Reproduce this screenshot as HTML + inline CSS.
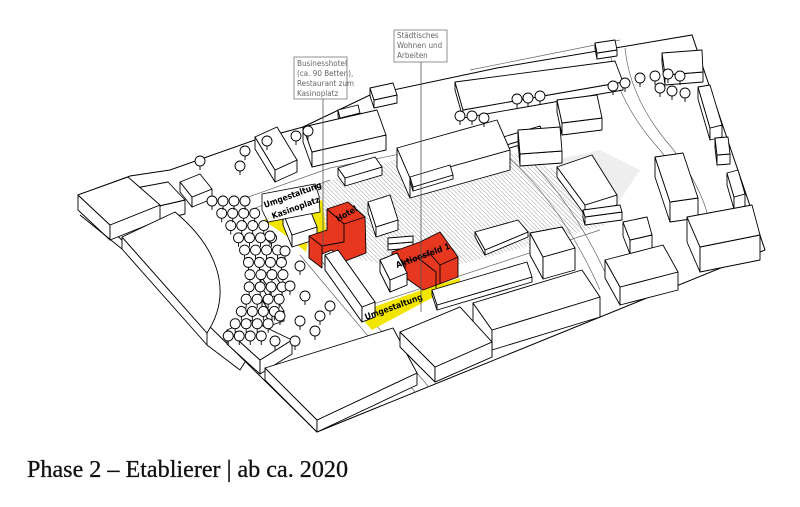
<!DOCTYPE html>
<html><head><meta charset="utf-8"><style>
html,body{margin:0;padding:0;background:#fff;width:800px;height:507px;overflow:hidden}
svg{display:block}
.t{font-family:"DejaVu Sans Condensed","DejaVu Sans","Liberation Sans",sans-serif;font-size:8px;fill:#666}
.lb{font-family:"DejaVu Sans Condensed","DejaVu Sans","Liberation Sans",sans-serif;font-size:8.5px;font-weight:bold;fill:#000}
</style></head><body>
<svg id="s" width="800" height="507" viewBox="0 0 800 507" xmlns="http://www.w3.org/2000/svg">
<defs>
<pattern id="h" width="3" height="3" patternUnits="userSpaceOnUse" patternTransform="rotate(-45)">
<line x1="0" y1="0" x2="0" y2="3" stroke="#888" stroke-width="0.8"/></pattern>
</defs>
<polygon points="78,195 130,176 170,170 255,140 303,127 370,95 497,68 692,35 765,250 317,432 78,197" fill="#fff" stroke="#000" stroke-width="1"/>
<polygon points="300,190 400,158 500,148 560,172 605,225 470,262 420,272 340,255" fill="url(#h)"/>
<polygon points="555,160 600,150 640,170 610,215" fill="#eee"/>
<g fill="none" stroke="#666" stroke-width="0.7">
<path d="M300,255 L415,392"/><path d="M312,250 L428,386"/>
<path d="M240,200 L330,168 L420,150"/><path d="M250,210 L330,180"/>
<path d="M610,50 Q615,100 660,150 Q700,200 700,250"/><path d="M625,48 Q630,100 672,148 Q712,200 712,245"/>
<path d="M500,150 Q560,200 600,290"/><path d="M510,140 Q575,200 612,288"/>
<path d="M355,310 L600,230"/>
<path d="M470,70 L620,40"/>
</g>
<polygon points="263,220 322,200 326,230 308,240 306,252 285,235" fill="#f2e600"/>
<polygon points="357,313 427,288 460,278 460,284 428,300 372,330" fill="#f2e600"/>
<g id="b" fill="#fff" stroke="#000" stroke-width="0.9" stroke-linejoin="round"></g>
<g fill="#fff" stroke="#000" stroke-width="0.9" stroke-linejoin="round">
<path d="M122,237 L207,333 L207,345 L122,249 Z"/>
<path d="M122,237 L175,212 C215,245 235,290 207,333 Z"/>
<path d="M80,215 L122,249 M207,345 L240,370 L245,362" fill="none"/>
</g>
<g id="tr" fill="#fff" stroke="#000" stroke-width="0.9"></g>
<g id="red" fill="#e8371f" stroke="#000" stroke-width="0.9" stroke-linejoin="round">
<polygon points="309,236 327,230 327,209 348,202 365,217 366,253 343,262 332,250 322,254 322,268 309,258"/>
<polyline fill="none" points="327,209 344,224 365,217"/><line x1="344" y1="224" x2="344" y2="242"/><polyline fill="none" points="309,236 322,246 344,242"/><line x1="322" y1="246" x2="322" y2="254"/>
<polygon points="392,252 420,242 440,232 458,257 458,277 423,290 413,283 392,268"/>
<polyline fill="none" points="405,262 418,258 436,272 436,288"/><polyline fill="none" points="418,258 430,254 440,265 458,257"/><line x1="440" y1="265" x2="440" y2="284"/><polyline fill="none" points="405,262 405,280"/>
</g>
<g id="b2" fill="#fff" stroke="#000" stroke-width="0.9" stroke-linejoin="round"></g>
<polygon points="262,194 315,184 319,196 320,212 268,222 262,210" fill="#fff" stroke="#000" stroke-width="0.8"/>
<text class="lb" transform="translate(265,208) rotate(-20)">Umgestaltung</text>
<text class="lb" transform="translate(273,219) rotate(-20)">Kasinoplatz</text>
<text class="lb" transform="translate(338,222) rotate(-30)">Hotel</text>
<text class="lb" transform="translate(397,268) rotate(-20)">Aktionsfeld 1</text>
<text class="lb" transform="translate(366,320) rotate(-20)">Umgestaltung</text>
<rect x="294" y="57" width="53" height="42" fill="#fff" stroke="#777" stroke-width="0.8"/>
<text class="t" x="297" y="66">Businesshotel</text><text class="t" x="297" y="76">(ca. 90 Betten),</text><text class="t" x="297" y="86">Restaurant zum</text><text class="t" x="297" y="96">Kasinoplatz</text>
<line x1="323" y1="99" x2="323" y2="246" stroke="#555" stroke-width="0.8"/>
<rect x="394" y="30" width="53" height="32" fill="#fff" stroke="#777" stroke-width="0.8"/>
<text class="t" x="397" y="38">Städtisches</text><text class="t" x="397" y="48">Wohnen und</text><text class="t" x="397" y="58">Arbeiten</text>
<line x1="421" y1="62" x2="421" y2="312" stroke="#555" stroke-width="0.8"/>
<text x="27" y="477" font-family="Liberation Serif,serif" font-size="24" textLength="321" lengthAdjust="spacingAndGlyphs" fill="#111" stroke="#111" stroke-width="0.3">Phase 2 – Etablierer | ab ca. 2020</text>
</svg>
<script>
var NS="http://www.w3.org/2000/svg";
function P(g,pts){var e=document.createElementNS(NS,"polygon");e.setAttribute("points",pts.map(function(p){return p[0].toFixed(1)+","+p[1].toFixed(1)}).join(" "));g.appendChild(e);}
var B=[
[[78,195],[128,177],[160,205],[110,225],15],[[125,190],[168,182],[185,200],[142,210],14],
[[227,330],[250,320],[292,340],[260,360],14],[[265,368],[393,328],[417,373],[317,420],12],
[[400,332],[460,307],[492,342],[435,367],15],[[473,303],[582,270],[600,297],[492,330],20],
[[432,290],[527,262],[532,277],[437,305],5],
[[530,233],[562,227],[575,248],[543,257],22],[[475,232],[518,220],[528,232],[485,250],5],
[[605,260],[663,245],[678,272],[620,287],18],[[687,217],[752,205],[760,235],[700,247],25],[[623,222],[647,217],[652,235],[630,240],14],
[[557,167],[592,155],[617,195],[585,205],10],[[583,210],[620,205],[622,212],[585,217],8],
[[455,82],[615,61],[623,82],[463,110],8],[[595,43],[615,40],[617,50],[597,53],6],[[662,53],[702,50],[703,72],[665,75],10],
[[557,100],[597,95],[602,118],[562,123],12],[[518,130],[560,127],[562,151],[520,154],12],
[[655,157],[683,153],[698,198],[670,202],20],[[698,87],[710,85],[722,125],[710,128],12],[[715,138],[728,137],[730,154],[717,155],10],[[727,173],[738,170],[745,194],[734,197],12],
[[303,127],[377,110],[386,135],[312,152],15],[[370,88],[393,83],[397,95],[374,100],8],[[338,110],[358,105],[360,113],[340,118],6],
[[255,137],[277,127],[297,160],[275,170],12],[[180,182],[200,174],[212,189],[192,197],10],[[338,168],[375,157],[382,167],[345,178],8],
[[397,148],[497,120],[510,150],[410,178],20],[[368,202],[390,195],[398,220],[376,227],10],[[388,238],[413,236],[413,242],[388,244],6],
[[283,213],[308,205],[317,227],[292,235],12],[[325,255],[338,250],[375,302],[362,307],15],[[380,260],[397,253],[407,273],[390,280],12],
[[410,177],[450,165],[453,175],[413,187],4],[[500,138],[540,126],[543,134],[503,146],4],
[[260,275],[272,271],[282,286],[270,290],10],[[262,300],[274,296],[284,311],[272,315],10]
];
function drawBox(g,d){var p=d[0],pa=d[1],pab=d[2],pb=d[3],h=d[4];
P(g,[p,pb,[pb[0],pb[1]+h],[p[0],p[1]+h]]);
P(g,[pb,pab,[pab[0],pab[1]+h],[pb[0],pb[1]+h]]);
P(g,[p,pa,pab,pb]);}
B.sort(function(u,v){return Math.max(u[2][1],u[3][1])-Math.max(v[2][1],v[3][1]);});
var g=document.getElementById("b"),g2=document.getElementById("b2");
B.forEach(function(d){drawBox(g,d);var by=Math.max(d[2][1],d[3][1]);if(by>=262&&d[0][0]>300&&d[0][0]<420)drawBox(g2,d);});
var t=document.getElementById("tr");
function tree(x,y){var l=document.createElementNS(NS,"line");l.setAttribute("x1",x);l.setAttribute("y1",y);l.setAttribute("x2",x);l.setAttribute("y2",y+5);t.appendChild(l);var c=document.createElementNS(NS,"circle");c.setAttribute("cx",x);c.setAttribute("cy",y-4);c.setAttribute("r",5);t.appendChild(c);}
for(var r=0;r<4;r++){for(var i=0;i<12;i++){var s=i/11;var x=212+r*11+30*Math.sin(s*3.1)+s*15,y=205+s*135;tree(x,y);}}
[[270,240],[285,255],[300,270],[290,290],[305,300],[280,320],[300,325],[315,335],[275,345],[295,345],[320,320],[330,310],[200,165],[245,155],[240,170],[267,145],[613,90],[625,87],[640,82],[655,80],[668,78],[680,80],[660,92],[672,95],[685,97],[517,103],[528,102],[540,100],[460,120],[472,120],[484,122],[308,135],[296,140]].forEach(function(p){tree(p[0],p[1]);});
</script>
</body></html>
